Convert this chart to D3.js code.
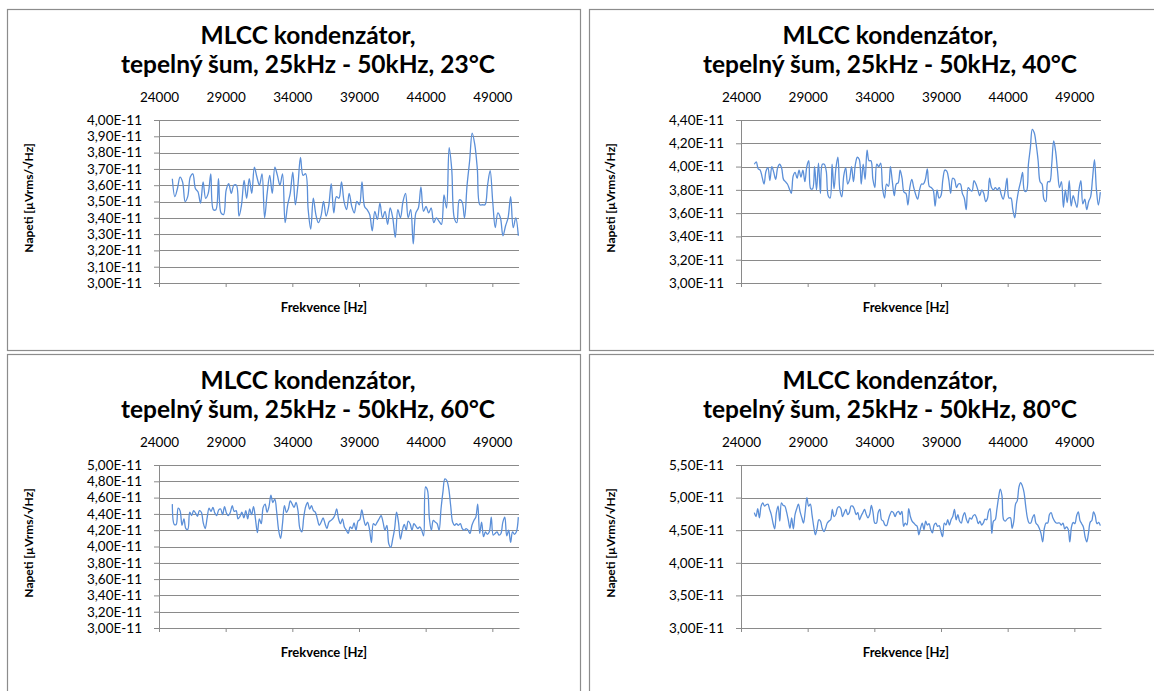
<!DOCTYPE html>
<html>
<head>
<meta charset="utf-8">
<script src="https://cdn.jsdelivr.net/npm/d3@7"></script>
<style>
  body { margin: 0; background: #fff; }
  text { font-family: Lato, "Open Sans", sans-serif; }
</style>
</head>
<body>
<svg width="1154" height="691"></svg>
<script>
// values are in units of 1e-11 V (the axis labels add "E-11")
var temps = ["23", "40", "60", "80"];
var xTicks = [24000, 29000, 34000, 39000, 44000, 49000];
var freqStart = 25000, freqEnd = 50950;

var yTicks23 = [3.0, 3.1, 3.2, 3.3, 3.4, 3.5, 3.6, 3.7, 3.8, 3.9, 4.0];
var yTicks40 = [3.0, 3.2, 3.4, 3.6, 3.8, 4.0, 4.2, 4.4];
var yTicks60 = [3.0, 3.2, 3.4, 3.6, 3.8, 4.0, 4.2, 4.4, 4.6, 4.8, 5.0];
var yTicks80 = [3.0, 3.5, 4.0, 4.5, 5.0, 5.5];

var noise23 = [
  3.64,3.53,3.58,3.65,3.62,3.50,3.53,3.65,3.67,3.58,
  3.56,3.49,3.62,3.52,3.55,3.67,3.45,3.45,3.64,3.43,
  3.42,3.57,3.61,3.55,3.60,3.60,3.41,3.48,3.63,3.52,
  3.64,3.55,3.71,3.65,3.60,3.67,3.40,3.55,3.66,3.55,
  3.71,3.66,3.60,3.67,3.37,3.48,3.55,3.68,3.48,3.60,
  3.77,3.66,3.67,3.45,3.33,3.52,3.42,3.37,3.41,3.50,
  3.41,3.47,3.61,3.43,3.53,3.52,3.62,3.50,3.45,3.55,
  3.47,3.43,3.50,3.48,3.62,3.47,3.45,3.42,3.32,3.44,
  3.39,3.49,3.40,3.44,3.36,3.46,3.40,3.28,3.45,3.40,
  3.50,3.55,3.40,3.45,3.24,3.43,3.46,3.59,3.44,3.47,
  3.43,3.46,3.37,3.40,3.38,3.36,3.54,3.46,3.83,3.70,
  3.40,3.37,3.51,3.50,3.40,3.60,3.75,3.92,3.85,3.70,
  3.48,3.48,3.48,3.60,3.69,3.50,3.34,3.43,3.40,3.29,
  3.35,3.40,3.53,3.34,3.40,3.29
];

var noise40 = [
  4.02,4.04,3.98,3.97,3.91,3.85,3.96,3.99,3.88,4.00,
  3.95,3.89,3.99,4.02,3.99,3.89,3.87,3.85,3.81,
  3.77,3.92,3.95,3.90,3.97,3.91,3.97,3.87,4.00,
  4.05,3.81,3.81,4.00,3.80,4.03,3.77,4.02,4.02,
  3.96,3.75,3.73,4.02,3.81,3.99,4.08,3.80,3.74,3.92,
  3.99,3.85,3.89,4.00,3.87,4.02,4.08,4.06,3.85,4.02,
  3.89,4.14,4.05,4.05,3.89,3.82,4.02,4.00,4.03,3.81,
  3.73,3.85,3.83,4.00,3.87,3.75,
  3.85,3.86,3.97,3.90,3.78,3.77,3.67,3.82,3.89,3.82,
  3.76,3.72,3.80,3.85,3.85,3.89,3.98,3.83,3.82,3.80,
  3.66,3.80,3.73,3.75,3.89,3.97,3.96,3.89,3.77,3.90,
  3.89,3.82,3.85,3.85,3.77,3.73,3.63,3.82,3.80,3.79,
  3.88,3.85,3.80,3.75,3.80,3.77,3.70,3.73,3.90,3.82,
  3.80,3.82,3.80,3.82,3.76,3.72,3.79,3.90,3.73,3.73,
  3.63,3.56,3.70,3.80,3.87,3.95,3.79,3.79,4.02,4.16,
  4.32,4.29,4.19,4.05,3.87,3.85,3.72,3.70,3.87,3.87,
  4.02,4.22,4.13,3.96,
  3.82,3.87,3.65,3.80,3.69,3.88,3.66,3.75,3.70,3.65,
  3.80,3.88,3.68,3.72,3.63,3.70,3.74,3.90,4.06,3.80,
  3.67,3.78
];

var noise60 = [
  4.52,4.27,4.27,4.47,4.44,4.26,4.34,4.22,4.21,
  4.42,4.38,4.44,4.41,4.37,4.44,4.42,4.29,4.22,
  4.35,4.47,4.43,4.48,4.41,4.38,4.45,4.46,4.39,4.49,
  4.41,4.38,4.42,4.50,4.43,4.44,4.34,4.37,4.42,
  4.35,4.44,4.34,4.46,4.39,4.49,4.34,4.17,4.34,
  4.28,4.48,4.52,4.42,4.49,4.63,4.54,4.58,4.42,
  4.20,4.10,4.28,4.50,4.42,4.46,4.56,4.52,4.48,
  4.54,4.44,4.22,4.18,4.36,4.49,4.54,4.46,
  4.50,4.44,4.42,4.34,4.26,4.30,4.35,4.28,4.22,4.30,
  4.32,4.34,4.38,4.46,4.34,4.28,4.34,4.24,4.20,4.16,
  4.24,4.22,4.29,4.20,4.31,4.33,4.45,4.34,4.26,4.30,
  4.21,4.05,4.28,4.26,4.30,4.34,4.38,4.30,4.20,4.26,
  4.03,3.99,4.09,4.22,4.42,4.30,4.09,4.20,4.27,4.20,
  4.31,4.28,4.20,4.28,4.25,4.22,4.24,4.20,4.13,4.73,
  4.69,4.34,4.20,4.32,4.30,4.28,4.20,4.46,4.67,4.83,
  4.81,4.71,4.50,4.30,4.26,4.28,4.26,4.28,4.22,4.20,
  4.22,4.20,4.16,4.26,4.32,
  4.36,4.52,4.16,4.30,4.12,4.18,4.15,4.18,4.36,4.14,
  4.16,4.18,4.14,4.16,4.30,4.36,4.13,4.20,4.05,4.18,
  4.15,4.18,4.36
];

var noise80 = [
  4.77,4.71,4.83,4.69,4.87,4.92,4.87,4.89,4.90,4.82,
  4.74,4.61,4.52,4.77,4.87,4.64,4.92,4.88,4.87,4.78,
  4.66,4.53,4.69,4.52,4.74,4.83,4.90,4.78,4.69,4.61,
  4.79,5.00,4.87,4.90,4.74,4.56,4.43,4.53,4.66,4.64,
  4.53,4.48,4.53,4.61,4.64,4.66,4.82,4.71,4.74,4.84,
  4.86,4.83,4.71,4.77,4.82,4.74,4.77,4.87,4.87,4.82,
  4.74,4.77,4.66,4.72,4.77,4.82,4.74,4.69,4.74,4.88,
  4.77,4.61,4.61,4.77,4.82,4.66,4.64,4.58,4.57,4.66,
  4.74,4.79,4.77,4.71,
  4.77,4.79,4.74,4.79,4.56,4.61,4.58,4.83,4.71,4.64,
  4.61,4.58,4.56,4.43,4.53,4.61,4.51,4.64,4.58,4.60,
  4.51,4.46,4.58,4.61,4.56,4.57,4.48,4.40,4.61,4.58,
  4.66,4.58,4.66,4.71,4.82,4.66,4.74,4.64,4.61,4.71,
  4.77,4.67,4.61,4.69,4.67,4.72,4.74,4.69,4.60,4.64,
  4.58,4.61,4.67,4.66,4.78,4.83,4.45,4.64,4.66,4.82,
  5.00,5.13,5.03,4.66,4.64,4.67,4.69,4.69,4.53,4.64,
  4.90,4.95,5.16,5.23,5.18,5.08,4.87,4.69,4.61,4.61,
  4.69,4.74,4.61,4.58,4.53,4.45,4.32,4.53,4.61,4.61,
  4.74,4.77,4.69,4.64,4.61,4.61,4.61,4.58,4.61,
  4.52,4.55,4.52,4.32,4.55,4.62,4.60,4.72,4.78,4.65,
  4.60,4.55,4.40,4.32,4.45,4.62,4.65,4.78,4.72,4.60,
  4.62,4.57
];

var svg = d3.select("svg");

var panelW = 573, panelH = 341;
var plotW = 360, plotH = 163;
var panels = [
  { x: 7,   y: 9,   temp: temps[0], values: noise23, yTicks: yTicks23 },
  { x: 589, y: 9,   temp: temps[1], values: noise40, yTicks: yTicks40 },
  { x: 7,   y: 354, temp: temps[2], values: noise60, yTicks: yTicks60 },
  { x: 589, y: 354, temp: temps[3], values: noise80, yTicks: yTicks80 }
];

var fmtY = function(d) { return d.toFixed(2).replace(".", ",") + "E-11"; };

panels.forEach(function(p) {

  svg.append("rect")
      .attr("x", p.x + 0.5)
      .attr("y", p.y + 0.5)
      .attr("width", panelW)
      .attr("height", panelH)
      .attr("fill", "#fff")
      .attr("stroke", "#8c8c8c")
      .attr("stroke-width", 1.2);

  var g = svg.append("g")
      .attr("transform", "translate(" + (p.x + 152) + "," + (p.y + 111) + ")");

  var scaleX = d3.scaleLinear()
      .domain([24000, 51000])
      .range([0, plotW]);

  var scaleY = d3.scaleLinear()
      .domain([p.yTicks[0], p.yTicks[p.yTicks.length - 1]])
      .range([plotH, 0]);

  // frequency grid of the measurement
  var scaleF = d3.scaleLinear()
      .domain([0, p.values.length - 1])
      .range([freqStart, freqEnd]);

  // titles
  g.append("text")
      .attr("x", 149).attr("y", -76)
      .attr("text-anchor", "middle")
      .attr("font-size", 24.5).attr("font-weight", "bold")
      .text("MLCC kondenzátor,");
  g.append("text")
      .attr("x", 149).attr("y", -47)
      .attr("text-anchor", "middle")
      .attr("font-size", 24.5).attr("font-weight", "bold")
      .text("tepelný šum, 25kHz - 50kHz, " + p.temp + "°C");

  // gridlines
  g.selectAll(".grid")
      .data(p.yTicks)
      .enter().append("line")
      .attr("x1", 0).attr("x2", plotW)
      .attr("y1", function(d) { return Math.round(scaleY(d)) + 0.5; })
      .attr("y2", function(d) { return Math.round(scaleY(d)) + 0.5; })
      .attr("stroke", "#8a8a8a");

  // left axis
  var yAxis = g.append("g")
      .call(d3.axisLeft(scaleY).tickValues(p.yTicks).tickFormat(fmtY)
            .tickSize(5).tickSizeOuter(0).tickPadding(12));

  // bottom axis, ticks only
  var xAxis = g.append("g")
      .attr("transform", "translate(0," + plotH + ")")
      .call(d3.axisBottom(scaleX).tickValues(xTicks).tickFormat("")
            .tickSize(4).tickSizeOuter(0));

  // labels of the x axis sit above the plot
  var xLabels = g.append("g")
      .call(d3.axisTop(scaleX).tickValues(xTicks).tickFormat(d3.format("d"))
            .tickSize(0).tickPadding(18));
  xLabels.select(".domain").remove();

  [yAxis, xAxis, xLabels].forEach(function(a) {
    a.selectAll("path, line").attr("stroke", "#8a8a8a");
    a.selectAll("text")
        .attr("font-family", "Lato, sans-serif")
        .attr("font-size", 13.5)
        .attr("fill", "#000");
  });

  // series
  var line = d3.line()
      .x(function(d, i) { return scaleX(scaleF(i)); })
      .y(function(d) { return scaleY(d); })
      .curve(d3.curveCatmullRom.alpha(0.5));

  g.append("path")
      .datum(p.values)
      .attr("d", line)
      .attr("fill", "none")
      .attr("stroke", "#5b8fd8")
      .attr("stroke-width", 1.3);

  // axis titles
  g.append("text")
      .attr("transform", "translate(-126," + 78 + ") rotate(-90)")
      .attr("text-anchor", "middle")
      .attr("font-size", 12).attr("font-weight", "bold")
      .text("Napeti [µVrms/√Hz]");

  g.append("text")
      .attr("x", 165).attr("y", plotH + 29)
      .attr("text-anchor", "middle")
      .attr("font-size", 13).attr("font-weight", "bold")
      .text("Frekvence [Hz]");
});
</script>
</body>
</html>
